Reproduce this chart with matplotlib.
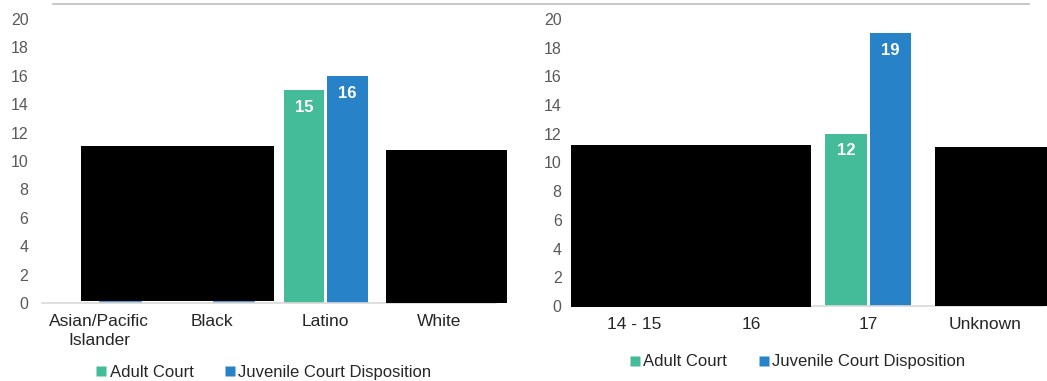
import numpy as np
import matplotlib
matplotlib.use('Agg')
from matplotlib import pyplot
from matplotlib.patches import Rectangle
from matplotlib.lines import Line2D

pyplot.rcParams['font.family'] = ['Liberation Sans', 'DejaVu Sans']

# 値が黒塗りで隠されているものは NaN
RACE_LABELS = ['Asian/Pacific\nIslander', 'Black', 'Latino', 'White']
RACE_ADULT = [np.nan, np.nan, 15, np.nan]
RACE_JUVENILE = [np.nan, np.nan, 16, np.nan]

AGE_LABELS = ['14 - 15', '16', '17', 'Unknown']
AGE_ADULT = [np.nan, np.nan, 12, np.nan]
AGE_JUVENILE = [np.nan, np.nan, 19, np.nan]

SERIES_NAMES = ['Adult Court', 'Juvenile Court Disposition']

# 黒塗り部分 (x0, x1, y0, y1) データ座標
RACE_REDACT = [(-0.16, 1.54, 0.14, 11.06), (2.53, 3.60, 0.0, 10.77)]
AGE_REDACT = [(-0.54, 1.51, -0.07, 11.22), (2.57, 3.55, 0.0, 11.08)]

GREEN = '#44BB99'
BLUE = '#2782C8'
TICK_COLOR = '#595959'
LABEL_COLOR = '#262626'
BAR_WIDTH = 0.355
OFFSET = 0.19


def draw_panel(axes, labels, adult, juvenile, redact):
    x = np.arange(len(labels))
    for values, color, sign in ((adult, GREEN, -1), (juvenile, BLUE, 1)):
        values = np.array(values, dtype=float)
        shown = ~np.isnan(values)
        bars = axes.bar(x[shown] + sign * OFFSET, values[shown], BAR_WIDTH, color=color)
        for bar, v in zip(bars, values[shown]):
            axes.annotate(f'{v:.0f}', (bar.get_x() + bar.get_width() / 2, v),
                          xytext=(0, -7), textcoords='offset points',
                          ha='center', va='top', color='white',
                          fontsize=12, fontweight='bold')
        if color == BLUE:
            # 隠れた棒の下端だけ少し見えている
            for xi in x[~shown][:2]:
                axes.plot([xi + OFFSET - BAR_WIDTH / 2, xi + OFFSET + BAR_WIDTH / 2], [0.05, 0.05],
                          color=color, lw=1.2, zorder=2)

    for (x0, x1, y0, y1) in redact:
        axes.add_patch(Rectangle((x0, y0), x1 - x0, y1 - y0, facecolor='black',
                                 edgecolor='none', zorder=5, clip_on=False))

    axes.set_xlim(-0.5, len(labels) - 0.5)
    axes.set_ylim(0, 20)
    axes.set_yticks(range(0, 21, 2))
    axes.set_xticks(x)
    axes.set_xticklabels(labels, fontsize=12.5, color=LABEL_COLOR, linespacing=1.35)
    axes.tick_params(axis='y', length=0, pad=10, labelsize=11.5, labelcolor=TICK_COLOR)
    axes.tick_params(axis='x', length=0, pad=8)
    for side in ('top', 'right', 'left'):
        axes.spines[side].set_visible(False)
    axes.spines['bottom'].set_color('#d9d9d9')
    axes.spines['bottom'].set_linewidth(1.2)


def add_legend(figure, center):
    handles = [Line2D([], [], marker='s', linestyle='none', markersize=7,
                      markerfacecolor=c, markeredgecolor='none') for c in (GREEN, BLUE)]
    figure.legend(handles, SERIES_NAMES, loc='center', bbox_to_anchor=center, ncol=2,
                  frameon=False, fontsize=12, handlelength=0.6, handletextpad=0.2,
                  columnspacing=1.9, labelcolor=LABEL_COLOR)


def main():
    figure = pyplot.figure(figsize=(10.47, 3.81), dpi=100)
    left = figure.add_axes([0.0404, 0.2047, 0.4333, 0.7454])
    right = figure.add_axes([0.5497, 0.1969, 0.447, 0.7533])

    draw_panel(left, RACE_LABELS, RACE_ADULT, RACE_JUVENILE, RACE_REDACT)
    draw_panel(right, AGE_LABELS, AGE_ADULT, AGE_JUVENILE, AGE_REDACT)

    add_legend(figure, (0.252, 0.022))
    add_legend(figure, (0.762, 0.05))

    # 上部の区切り線
    figure.add_artist(Line2D([53 / 1047, 1029 / 1047], [1 - 3.5 / 381, 1 - 3.5 / 381],
                             color='#bfbfbf', lw=1.2))

    pyplot.savefig('out.png', dpi=100)


main()
